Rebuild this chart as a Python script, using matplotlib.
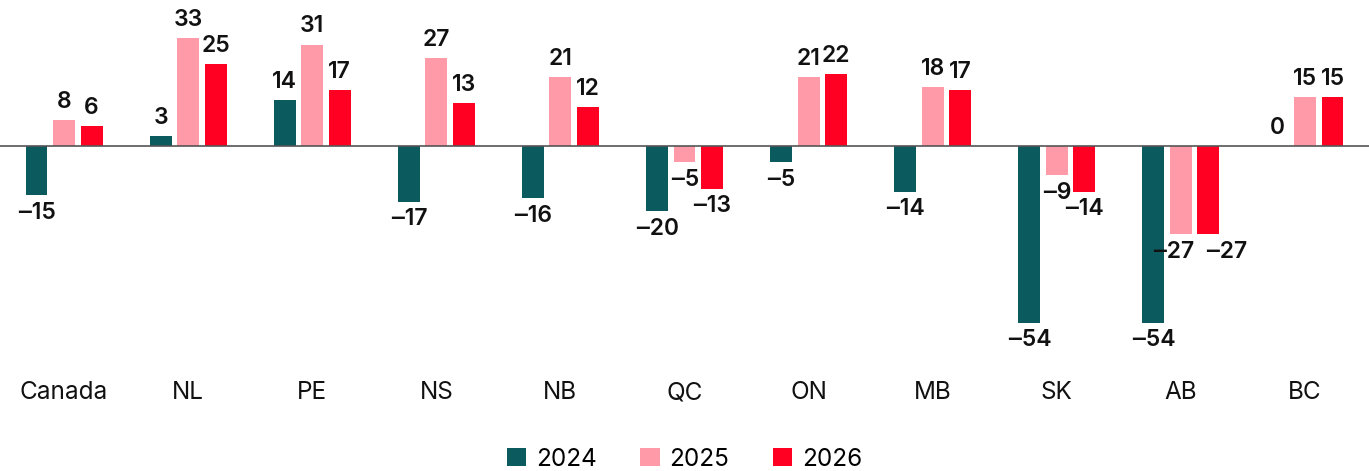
import matplotlib.pyplot as plt
import numpy as np

regions = ['Canada', 'NL', 'PE', 'NS', 'NB', 'QC', 'ON', 'MB', 'SK', 'AB', 'BC']
v2024 = [-15, 3, 14, -17, -16, -20, -5, -14, -54, -54, 0]
v2025 = [8, 33, 31, 27, 21, -5, 21, 18, -9, -27, 15]
v2026 = [6, 25, 17, 13, 12, -13, 22, 17, -14, -27, 15]
years = ['2024', '2025', '2026']
colors = ['#0b5a5e', '#ff9aa8', '#ff0022']

# labels that collide in the source get pushed apart a little
nudge = {('AB', 1): -0.06, ('AB', 2): 0.14}

plt.rcParams['font.family'] = ['Inter', 'DejaVu Sans']

fig = plt.figure(figsize=(13.69, 4.71), dpi=100)
ax = fig.add_axes([0, 0, 1, 1])

px = 3.27  # pixels per unit
ax.set_ylim(-(471 - 146) / px, 146 / px)
ax.set_xlim(-0.516, 10.516)
ax.axis('off')

x = np.arange(len(regions))
w = 0.177
off = 0.222
for i, (vals, c, yr) in enumerate(zip([v2024, v2025, v2026], colors, years)):
    xs = x + (i - 1) * off
    ax.bar(xs, vals, width=w, color=c, label=yr, zorder=2)
    for r, xi, v in zip(regions, xs, vals):
        lbl = str(v).replace('-', '\u2012')
        xi = xi + nudge.get((r, i), 0)
        if v >= 0:
            ax.text(xi, v + 2.2, lbl, ha='center', va='bottom', fontsize=16.5,
                    fontweight='semibold', color='#111111')
        else:
            ax.text(xi, v - 2.0, lbl, ha='center', va='top', fontsize=16.5,
                    fontweight='semibold', color='#111111')

ax.axhline(0, color='#555555', lw=1.2, zorder=3)

for xi, r in zip(x, regions):
    ax.text(xi, -(393 - 146) / px, r, ha='center', va='center', fontsize=17.5, color='#111111')

fig.legend(loc='center', bbox_to_anchor=(0.5, 1 - 459 / 471), ncol=3, frameon=False,
           fontsize=17.5, handlelength=0.8, handleheight=0.8, handletextpad=0.4,
           columnspacing=1.8)

fig.savefig('out.png', dpi=100)
